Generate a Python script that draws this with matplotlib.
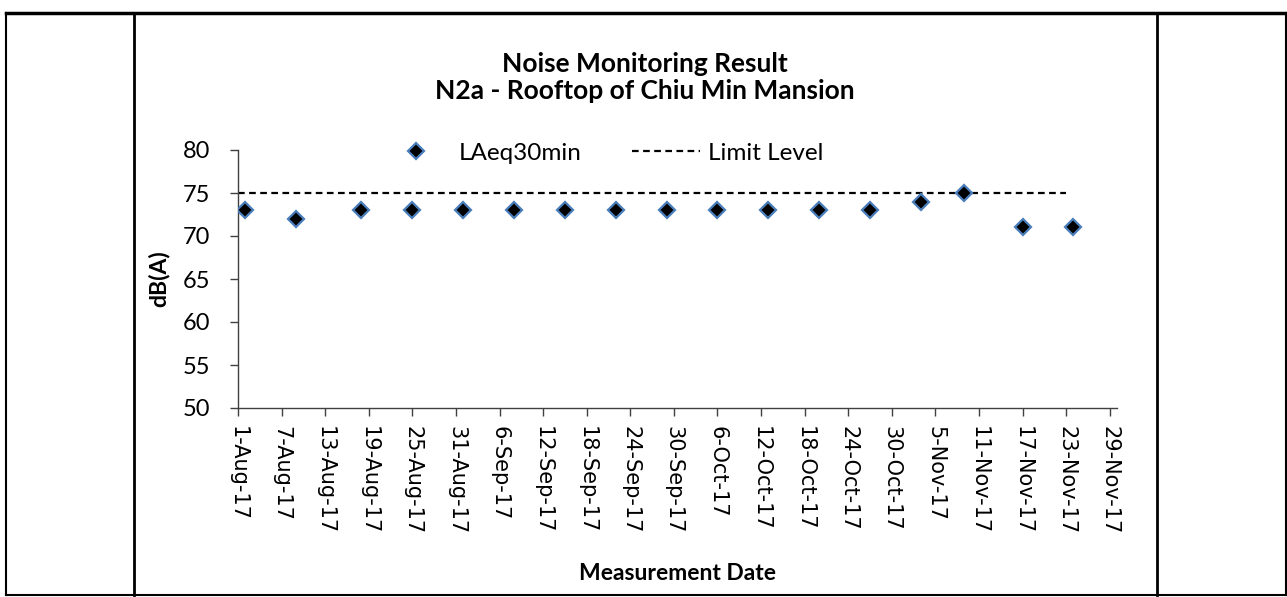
import matplotlib
matplotlib.use('Agg')
import matplotlib.pyplot as plt
from matplotlib.lines import Line2D
import pandas as pd

W, H = 1287, 597

dates = ['2017-08-02', '2017-08-09', '2017-08-18', '2017-08-25', '2017-09-01',
         '2017-09-08', '2017-09-15', '2017-09-22', '2017-09-29', '2017-10-06',
         '2017-10-13', '2017-10-20', '2017-10-27', '2017-11-03', '2017-11-09',
         '2017-11-17', '2017-11-24']
laeq = [73, 72, 73, 73, 73, 73, 73, 73, 73, 73, 73, 73, 73, 74, 75, 71, 71]
limit_dates = ['2017-08-01', '2017-11-23']
limit_level = [75, 75]

tick_dates = pd.date_range('2017-08-01', '2017-11-29', freq='6D')
tick_labels = [f"{d.day}-{d.strftime('%b-%y')}" for d in tick_dates]

title_lines = ['Noise Monitoring Result', 'N2a - Rooftop of Chiu Min Mansion']

plt.rcParams['font.family'] = ['Lato', 'DejaVu Sans']

fig = plt.figure(figsize=(W / 100, H / 100), dpi=100)

# plot area in pixels (left, top, right, bottom)
L, T, R, B = 238, 150, 1117, 408
ax = fig.add_axes([L / W, 1 - B / H, (R - L) / W, (B - T) / H])

ax.plot(pd.to_datetime(limit_dates), limit_level, color='black', lw=1.6, ls=(0, (3, 2)),
        label='Limit Level', zorder=2, clip_on=False)
ax.plot(pd.to_datetime(dates), laeq, ls='none', marker='D', ms=8.5, mfc='black',
        mec='#4a7ebb', mew=1.6, label='LAeq30min', zorder=3)

ax.set_xlim(pd.Timestamp('2017-08-01'), pd.Timestamp('2017-11-30'))
ax.set_ylim(50, 80)
ax.set_yticks(range(50, 81, 5))
ax.set_xticks(tick_dates)
ax.set_xticklabels(tick_labels, rotation=-90, family='DejaVu Sans', fontsize=15)
ax.tick_params(axis='y', labelsize=17, pad=14, length=6, width=1, color='#404040')
ax.tick_params(axis='x', pad=7, length=6, width=1, color='#404040')

for s in ['top', 'right']:
    ax.spines[s].set_visible(False)
for s in ['left', 'bottom']:
    ax.spines[s].set_color('#404040')
    ax.spines[s].set_linewidth(1)

ax.set_ylabel('dB(A)', fontsize=16.5, fontweight='bold')
ax.yaxis.set_label_coords((170 - L) / (R - L), 0.5)
ax.set_xlabel('Measurement Date', fontsize=16.5, fontweight='bold')
ax.xaxis.set_label_coords(0.5, -(563 - B) / (B - T))

for txt, yp in zip(title_lines, [64, 91]):
    fig.text(645 / W, 1 - yp / H, txt, ha='center', va='center', fontsize=19,
             fontweight='bold')

h, l = ax.get_legend_handles_labels()
fig.legend(h[::-1], l[::-1], loc='center', bbox_to_anchor=(603 / W, 1 - 153 / H),
           ncol=2, frameon=False, fontsize=17.5, handlelength=2.8, handletextpad=0.33,
           columnspacing=2.1, borderpad=0)

# table / chart borders
def hline(y, x0, x1, lw):
    fig.add_artist(Line2D([x0 / W, x1 / W], [1 - y / H, 1 - y / H], color='black', lw=lw))

def vline(xp, y0, y1, lw):
    fig.add_artist(Line2D([xp / W, xp / W], [1 - y0 / H, 1 - y1 / H], color='black', lw=lw))

hline(13, 6, 1286, 2.5)
hline(595, 6, 1286, 1.5)
vline(6, 13, 595, 1.5)
vline(1285.5, 13, 595, 1.5)
vline(134, 13, 595, 2)
vline(1157, 13, 595, 2)

fig.savefig('out.png', dpi=100)
